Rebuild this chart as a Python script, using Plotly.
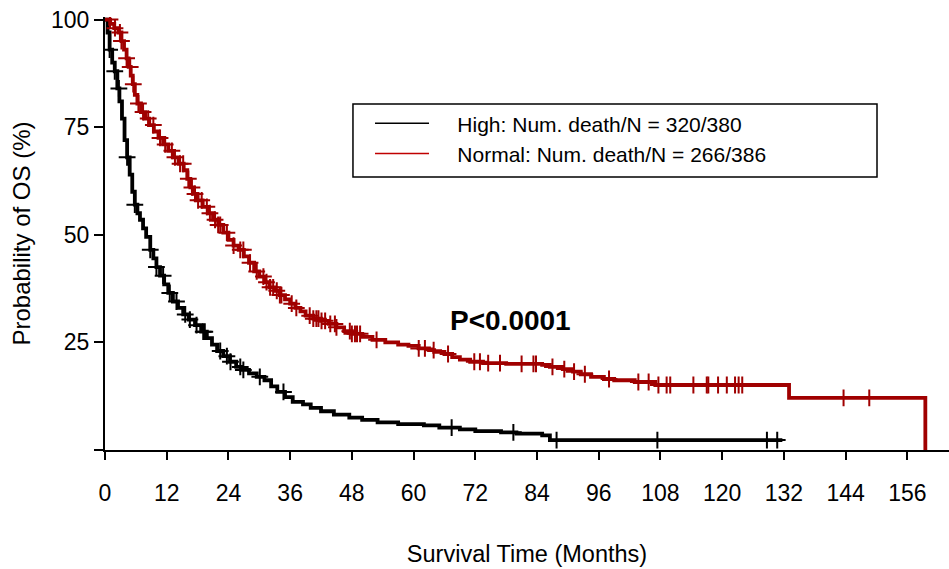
import bisect
import plotly.graph_objects as go

# ---------------- data ----------------
x_ticks = [0, 12, 24, 36, 48, 60, 72, 84, 96, 108, 120, 132, 144, 156]
y_ticks = [0, 25, 50, 75, 100]
y_tick_text = ["", "25", "50", "75", "100"]

high_name = "High: Num. death/N = 320/380"
normal_name = "Normal: Num. death/N = 266/386"

# High group: step times (months) and survival (%) after each step
high_t = [0, 0.5, 0.9, 1.4, 1.9, 2.4, 2.8, 3.3, 3.8, 4.3, 4.8, 5.3, 5.8, 6.3, 6.8,
          7.4, 8.0, 8.8, 9.4, 10.0, 10.7, 11.5, 12.3, 13.2, 14.2, 15.2, 16.3, 17.5,
          18.7, 19.8, 20.8, 21.8, 23.0, 24.3, 25.5, 26.5, 28.0, 29.5, 31.0, 32.3,
          33.5, 35.0, 36.5, 38.5, 40.0, 42.0, 44.5, 47.5, 50.0, 53.0, 57.0, 62.0,
          65.0, 69.0, 72.0, 77.0, 80.0, 85.0, 86.5, 131.7]
high_s = [100, 97, 93, 90, 88, 84, 81, 77, 72, 68, 64, 60, 57, 55, 53.5,
          51.5, 49.5, 46.5, 44.5, 42.5, 40.5, 38.5, 36.5, 34.5, 33, 31.5, 30.3, 29,
          27.5, 26, 24.5, 23, 21.8, 20.5, 19.3, 18.6, 17.8, 17, 16.2, 14.8,
          13.5, 12.3, 11.2, 10.6, 9.8, 9.0, 8.2, 7.5, 7.0, 6.4, 6.0, 5.7,
          5.2, 4.8, 4.4, 4.1, 3.8, 3.4, 2.3, 2.3]
high_cens = [0.9, 1.9, 2.7, 4.3, 5.8, 8.8, 10.0, 11.3, 12.6, 13.9, 15.6, 16.5, 17.8,
             19.1, 19.4, 22.4, 23.7, 24.4, 26.3, 26.9, 30.1, 34.7, 67.4, 79.4, 87.8,
             107.4, 128.7, 130.7]

# Normal group
normal_t = [0, 1.0, 1.8, 2.6, 3.2, 3.7, 4.2, 4.6, 5.0, 5.4, 5.8, 6.3, 7.0, 7.8, 8.6,
            9.5, 10.4, 11.3, 12.3, 13.3, 14.3, 15.3, 16.0, 16.6, 17.2, 18.0, 19.0,
            20.0, 21.0, 22.0, 23.0, 24.0, 25.0, 26.0, 27.0, 28.0, 29.0, 30.0, 31.0,
            32.0, 33.0, 34.0, 35.0, 36.0, 37.0, 38.0, 39.0, 40.5, 42.0, 43.5, 45.0,
            46.5, 48.0, 50.0, 52.0, 54.5, 57.0, 59.0, 61.0, 63.0, 64.0, 66.0, 67.5,
            69.0, 71.0, 73.5, 78.0, 85.0, 86.5, 89.0, 91.0, 92.5, 94.5, 97.0, 99.0,
            103.0, 107.0, 133.0, 159.5]
normal_s = [100, 99, 98, 97, 95, 93, 91, 89, 87, 85, 82.5, 80.5, 78.5, 77, 75.5,
            74, 72.5, 71, 69.5, 68, 66.5, 65, 63, 61, 59.5, 58, 56.5,
            55, 53.5, 52.3, 50.5, 48.8, 47.5, 46.5, 45, 43.5, 41.5, 40.3, 39,
            37.8, 37, 36, 35, 34, 33, 32.2, 31.2, 30.5, 30, 29.3, 28.5,
            27.6, 27, 26.3, 25.6, 25, 24.5, 24.2, 23.6, 23.2, 22.8, 22.3, 21.6,
            21, 20.5, 20.2, 20.0, 19.8, 19.3, 18.8, 18.2, 17.6, 17.0, 16.5, 16.2,
            15.8, 15.1, 12.1, 0]
normal_cens = [0.97, 1.94, 2.9, 3.2, 4.2, 4.9, 5.5, 6.5, 7.4, 8.4, 9.4, 10.7, 11.7,
               13.0, 13.6, 14.6, 15.2, 16.2, 16.9, 17.5, 18.1, 18.8, 19.8, 20.4,
               21.4, 22.0, 22.4, 23.7, 25.0, 26.3, 26.9, 28.2, 29.5, 30.8, 31.4,
               32.1, 32.7, 33.4, 34.0, 34.3, 36.3, 37.2, 39.8, 40.5, 41.1, 41.5,
               42.1, 42.8, 43.8, 44.7, 45.0, 47.6, 48.0, 48.6, 49.0, 49.6, 52.8,
               61.0, 62.2, 63.9, 66.7, 71.8, 72.9, 74.5, 76.8, 81.0, 83.3, 83.8,
               87.0, 89.3, 91.2, 93.3, 98.0, 103.7, 105.7, 107.6, 109.2, 109.9,
               114.4, 117.0, 117.3, 119.2, 120.9, 122.5, 123.2, 123.9, 143.6, 148.6]

p_text = "P<0.0001"
p_pos = (78.8, 30.2)

BLACK = "#000000"
RED = "#a00000"
FONT = "Liberation Sans, Arial, sans-serif"
PAD = "\u00a0\u00a0\u00a0\u00a0"


def surv_at(ts, ss, t):
    i = bisect.bisect_right(ts, t) - 1
    return ss[max(i, 0)]


fig = go.Figure()

for ts, ss, cens, col in [(high_t, high_s, high_cens, BLACK),
                          (normal_t, normal_s, normal_cens, RED)]:
    fig.add_trace(go.Scatter(x=ts, y=ss, mode="lines", line=dict(color=col, width=3.8, shape="hv"),
                             showlegend=False, hoverinfo="skip"))
    fig.add_trace(go.Scatter(x=cens, y=[surv_at(ts, ss, c) for c in cens], mode="markers",
                             marker=dict(symbol="cross-thin", size=12,
                                         line=dict(color=col, width=2)),
                             showlegend=False, hoverinfo="skip"))

# legend entries (thin lines as in the original legend)
fig.add_trace(go.Scatter(x=[None], y=[None], mode="lines", name=PAD + high_name,
                         line=dict(color=BLACK, width=1.5)))
fig.add_trace(go.Scatter(x=[None], y=[None], mode="lines", name=PAD + normal_name,
                         line=dict(color="#c00000", width=1.5)))

fig.add_annotation(x=p_pos[0], y=p_pos[1], text="<b>" + p_text + "</b>", showarrow=False,
                   font=dict(family=FONT, size=28, color="black"))

# legend frame
fig.add_shape(type="rect", xref="paper", yref="paper", x0=0.2938, x1=0.9147, y0=0.6305, y1=0.7991,
              line=dict(color="black", width=1.5), fillcolor="rgba(0,0,0,0)")

fig.update_layout(
    width=949, height=569,
    margin=dict(l=105, r=0, t=17, b=119),
    paper_bgcolor="white", plot_bgcolor="white",
    font=dict(family=FONT, color="black"),
    legend=dict(x=0.314, y=0.801, xanchor="left", yanchor="top", bgcolor="rgba(0,0,0,0)",
                font=dict(family=FONT, size=21, color="black"), itemwidth=54,
                tracegroupgap=0),
)
fig.update_xaxes(range=[0, 164.1], tickvals=x_ticks, ticktext=[str(v) for v in x_ticks],
                 automargin=False,
                 showgrid=False, zeroline=False, showline=True, linecolor="black", linewidth=2,
                 ticks="outside", ticklen=8, tickwidth=2, tickcolor="black",
                 ticklabelstandoff=13, tickfont=dict(family=FONT, size=23),
                 title=dict(text="Survival Time (Months)", font=dict(family=FONT, size=23.5), standoff=41))
fig.update_yaxes(range=[0, 100.6], tickvals=y_ticks, ticktext=y_tick_text,
                 automargin=False,
                 showgrid=False, zeroline=False, showline=True, linecolor="black", linewidth=2,
                 ticks="outside", ticklen=9, tickwidth=2, tickcolor="black",
                 ticklabelstandoff=0, tickfont=dict(family=FONT, size=23),
                 title=dict(text="Probability of OS (%)", font=dict(family=FONT, size=24), standoff=14))

# remove the browser's default 8px body margin so the figure fills the window
fig.write_html("out.html", config={"displayModeBar": False, "staticPlot": True},
               post_script="document.body.style.margin='0';")
